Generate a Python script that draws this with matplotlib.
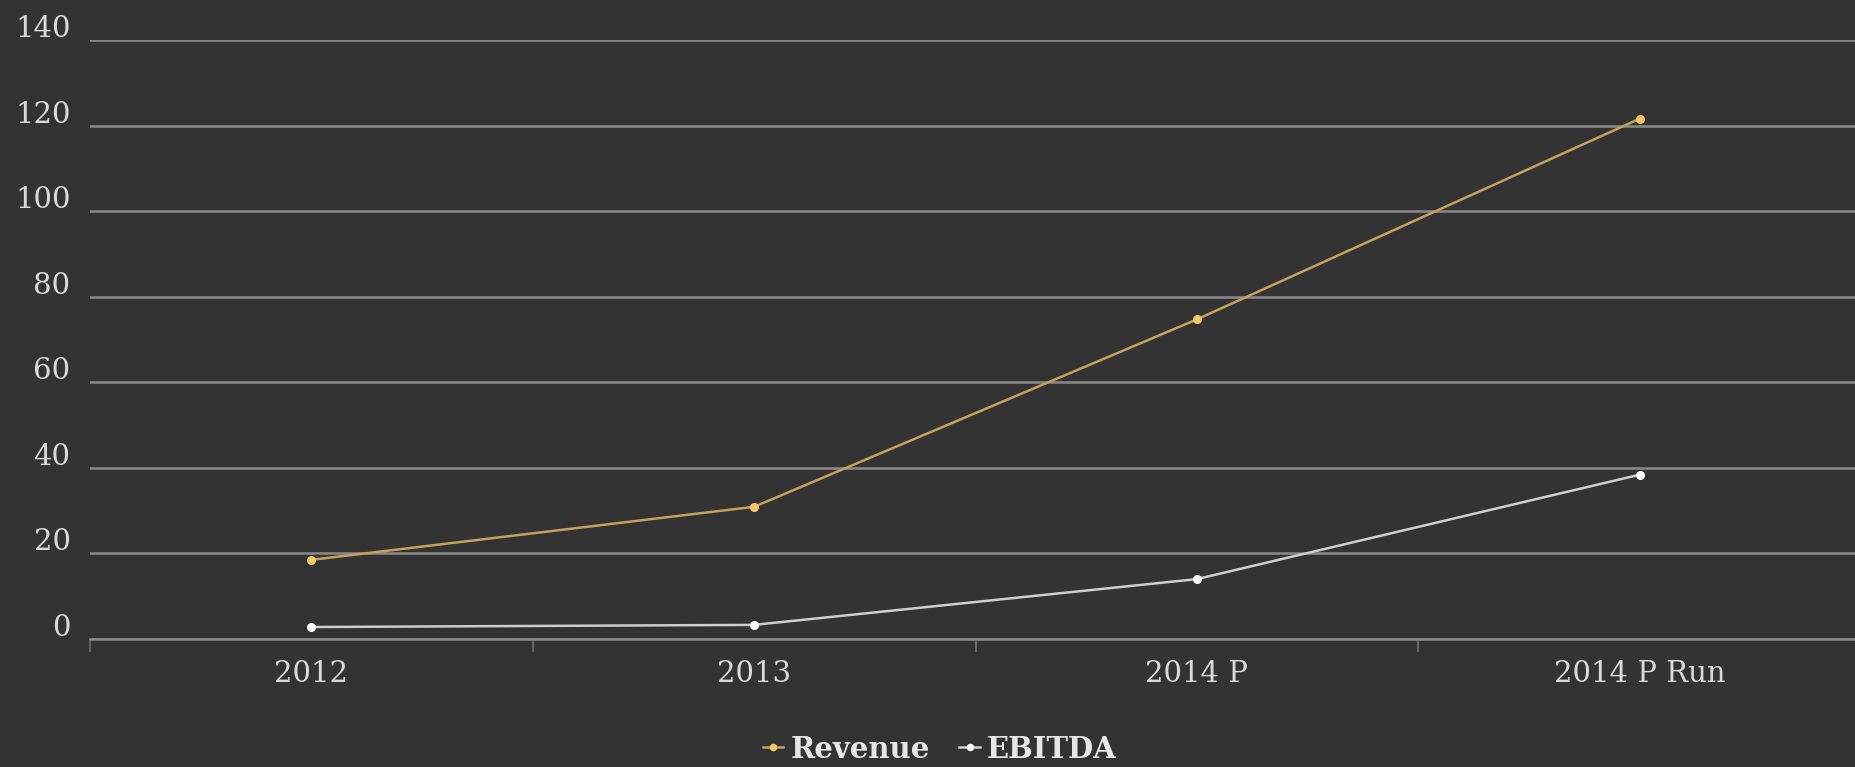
import matplotlib.pyplot as plt
import matplotlib.transforms as mtransforms
import numpy as np

# chart data
categories = ['2012', '2013', '2014 P', '2014 P Run']
revenue = [18.5, 30.9, 74.7, 121.6]
ebitda = [2.8, 3.3, 14.0, 38.4]
y_ticks = [0, 20, 40, 60, 80, 100, 120, 140]

bg = '#333333'
grid_col = '#8a8a8a'
text_col = '#d9d9d9'

fig = plt.figure(figsize=(18.55, 7.67), dpi=100, facecolor=bg)
ax = fig.add_axes([90 / 1855, 1 - 639 / 767, (1861 - 90) / 1855, (639 - 40) / 767])
ax.set_facecolor(bg)

x = np.arange(len(categories))
ax.plot(x, revenue, color='#c4a15c', lw=1.8, marker='o', ms=5.5,
        mfc='#f2c865', mec='#f2c865', label='Revenue', zorder=3)
ax.plot(x, ebitda, color='#cfcfcf', lw=1.8, marker='o', ms=5.5,
        mfc='#ffffff', mec='#ffffff', label='EBITDA', zorder=3)

ax.set_xlim(-0.5, len(categories) - 0.5)
ax.set_ylim(0, 140)
ax.set_yticks(y_ticks)
ax.set_xticks(x)
ax.set_xticklabels(categories)
ax.set_xticks(np.arange(-0.5, len(categories), 1.0), minor=True)

ax.grid(axis='y', color=grid_col, lw=1.8, zorder=1)
ax.set_axisbelow(True)
for s in ['top', 'right', 'left']:
    ax.spines[s].set_visible(False)
ax.spines['bottom'].set_color(grid_col)
ax.spines['bottom'].set_linewidth(1.8)

ax.tick_params(axis='y', length=0, pad=14, labelsize=21, labelcolor=text_col)
ax.tick_params(axis='x', which='major', length=0, pad=15, labelsize=21, labelcolor=text_col)
ax.tick_params(axis='x', which='minor', length=9, width=1.2, color='#6e6e6e', direction='out')

# y labels sit above their gridlines
offset = mtransforms.ScaledTranslation(0, 14 / 100, fig.dpi_scale_trans)
for lab in ax.get_yticklabels():
    lab.set_fontfamily('DejaVu Serif')
    lab.set_transform(lab.get_transform() + offset)
for lab in ax.get_xticklabels():
    lab.set_fontfamily('DejaVu Serif')

leg = fig.legend(loc='center', bbox_to_anchor=(940 / 1855, 1 - 749 / 767), ncol=2,
                 frameon=False, handlelength=0.7, handletextpad=0.25, columnspacing=1.0,
                 markerscale=0.8, prop={'family': 'DejaVu Serif', 'weight': 'bold', 'size': 21})
for t in leg.get_texts():
    t.set_color('#e6e6e6')

fig.savefig('out.png', dpi=100, facecolor=bg)
